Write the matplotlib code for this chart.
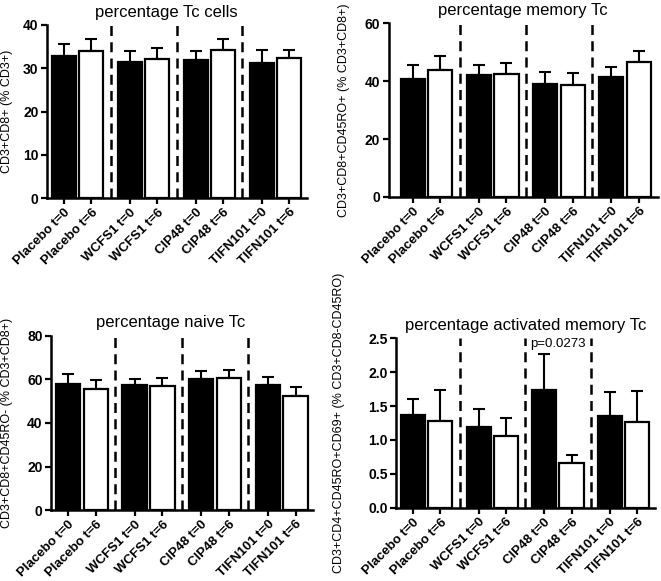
import numpy as np
import matplotlib
matplotlib.use("Agg")
import matplotlib.pyplot as plt
from matplotlib.ticker import FormatStrFormatter

plt.rcParams["font.family"] = ["Liberation Sans", "DejaVu Sans"]

# Data (mean and upper SEM)
labels = ["Placebo t=0", "Placebo t=6", "WCFS1 t=0", "WCFS1 t=6",
          "CIP48 t=0", "CIP48 t=6", "TIFN101 t=0", "TIFN101 t=6"]

tc_mean = [32.9, 33.9, 31.4, 32.1, 31.9, 34.2, 31.2, 32.3]
tc_err = [2.6, 2.9, 2.6, 2.5, 2.1, 2.6, 3.0, 1.9]

mem_mean = [40.7, 43.8, 42.1, 42.4, 39.0, 38.6, 41.5, 46.7]
mem_err = [4.9, 4.9, 3.5, 4.0, 4.0, 4.2, 3.4, 3.8]

naive_mean = [58.1, 55.5, 57.3, 57.0, 60.1, 60.6, 57.3, 52.4]
naive_err = [4.3, 4.4, 3.1, 3.6, 3.7, 3.6, 3.6, 3.9]

act_mean = [1.37, 1.28, 1.19, 1.06, 1.74, 0.66, 1.36, 1.27]
act_err = [0.23, 0.45, 0.27, 0.26, 0.53, 0.12, 0.34, 0.45]

# bar positions: pairs of bars, groups separated by a gap
GAP = 2.4
x = np.array([(i // 2) * GAP + (i % 2) for i in range(len(labels))])
fills = ["black", "white"] * 4
dividers = [(x[2 * k + 1] + x[2 * k + 2]) / 2 for k in range(3)]

fig = plt.figure(figsize=(6.61, 5.81), dpi=100)


def panel(rect, means, errs, title, ylabel, ylim, yticks, xlim, labx, titx=0.5, fmt=None):
    ax = fig.add_axes(rect)
    ax.bar(x, means, width=0.88, color=fills, edgecolor="black", linewidth=1.6, zorder=2)
    ax.errorbar(x, means, yerr=[np.zeros(len(errs)), errs], fmt="none",
                ecolor="black", elinewidth=1.5, capsize=4.5, capthick=1.5, zorder=1)
    for d in dividers:
        ax.axvline(d, color="black", lw=1.8, ls=(0, (4, 2.5)), zorder=3)
    ax.set_xlim(*xlim)
    ax.set_ylim(*ylim)
    ax.set_yticks(yticks)
    if fmt:
        ax.yaxis.set_major_formatter(FormatStrFormatter(fmt))
    ax.set_xticks(x)
    ax.set_xticklabels(labels, rotation=45, ha="right", rotation_mode="anchor",
                       fontsize=9.5, fontweight="bold")
    for t in ax.get_yticklabels():
        t.set_fontweight("bold")
        t.set_fontsize(10)
    for s in ["top", "right"]:
        ax.spines[s].set_visible(False)
    for s in ["left", "bottom"]:
        ax.spines[s].set_linewidth(1.8)
    ax.tick_params(width=1.6, length=4, pad=2)
    ax.set_title(title, fontsize=12, x=titx)
    ax.set_ylabel(ylabel, fontsize=9)
    ax.yaxis.set_label_coords(labx, 0.5)
    return ax


panel([0.071, 0.659, 0.393, 0.298], tc_mean, tc_err, "percentage Tc cells",
      "CD3+CD8+ (% CD3+)", (0, 40), [0, 10, 20, 30, 40], (-0.62, 8.84), -0.131, titx=0.46)
panel([0.588, 0.661, 0.407, 0.299], mem_mean, mem_err, "percentage memory Tc",
      "CD3+CD8+CD45RO+ (% CD3+CD8+)", (0, 60), [0, 20, 40, 60], (-0.87, 8.88), -0.145)
panel([0.077, 0.122, 0.397, 0.300], naive_mean, naive_err, "percentage naive Tc",
      "CD3+CD8+CD45RO- (% CD3+CD8+)", (0, 80), [0, 20, 40, 60, 80], (-0.62, 8.84), -0.145,
      titx=0.455)
ax4 = panel([0.599, 0.126, 0.392, 0.292], act_mean, act_err, "percentage activated memory Tc",
            "CD3+CD4+CD45RO+CD69+ (% CD3+CD8-CD45RO)", (0, 2.5),
            [0, 0.5, 1.0, 1.5, 2.0, 2.5], (-0.63, 8.86), -0.197, fmt="%.1f")
ax4.text((x[4] + x[5]) / 2, 2.42, "p=0.0273", ha="center", va="center", fontsize=9.5)

fig.savefig("out.png", dpi=100)
